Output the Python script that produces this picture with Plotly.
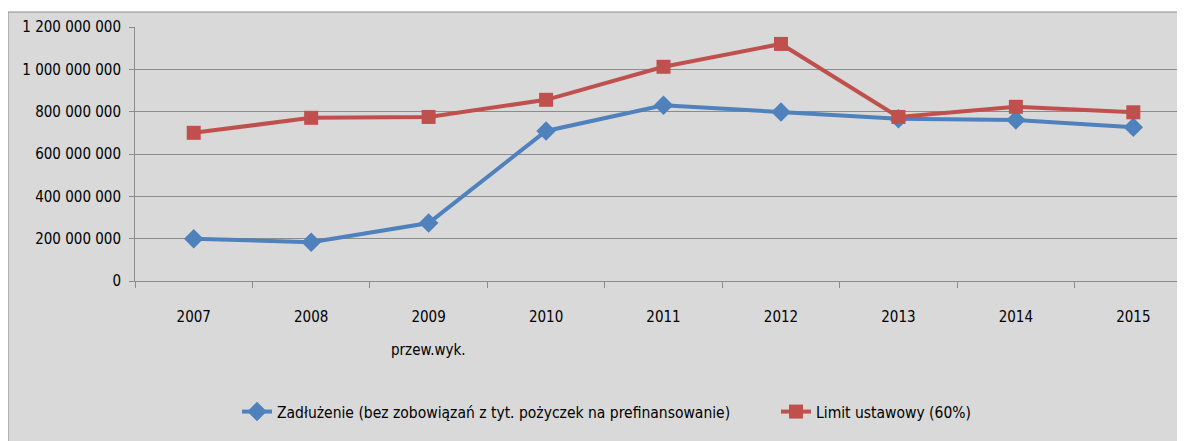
import plotly.graph_objects as go

years = ["2007", "2008", "2009", "2010", "2011", "2012", "2013", "2014", "2015"]
tick_labels = ["2007", "2008", "2009", "2010", "2011", "2012", "2013", "2014", "2015"]
note_year = "2009"
note_text = "przew.wyk."
zadluzenie = [200e6, 183e6, 274e6, 709e6, 830e6, 799e6, 766e6, 761e6, 726e6]
limit = [700e6, 771e6, 775e6, 856e6, 1012e6, 1120e6, 775e6, 823e6, 797e6]

FONT = "DejaVu Sans Condensed, Liberation Sans, sans-serif"
OFF = 8  # browser body margin
W, H = 1185 - OFF, 441 - OFF
ML, MR, MT, MB = 135 - OFF, 0, 27 - OFF, 441 - 281
PW, PH = W - ML - MR, H - MT - MB

fig = go.Figure()
fig.add_trace(go.Scatter(
    x=years, y=zadluzenie, mode="lines+markers",
    name="Zadłużenie (bez zobowiązań z tyt. pożyczek na prefinansowanie)",
    line=dict(color="#4f81bd", width=4),
    marker=dict(symbol="diamond", size=15, color="#4f81bd"),
    legend="legend",
))
fig.add_trace(go.Scatter(
    x=years, y=limit, mode="lines+markers",
    name="Limit ustawowy (60%)",
    line=dict(color="#c0504d", width=4),
    marker=dict(symbol="square", size=14, color="#c0504d"),
    legend="legend2",
))

fig.add_shape(type="rect", xref="paper", yref="paper",
              x0=(0 - ML) / PW, x1=1.05, y0=-(MB + 10) / PH, y1=1 + (MT - 4) / PH,
              fillcolor="#d9d9d9", line=dict(color="#8c8c8c", width=1), layer="below")

def px_x(x):
    return (x - OFF - ML) / PW

def px_y(y):
    return (MT + PH - (y - OFF)) / PH

fig.add_annotation(x=years.index(note_year), xref="x", y=px_y(350), yref="paper",
                   yanchor="middle", text=note_text, showarrow=False,
                   font=dict(family=FONT, size=15, color="#000000"))

leg_common = dict(orientation="h", yanchor="middle", xanchor="left",
                  bgcolor="rgba(0,0,0,0)", font=dict(family=FONT, size=15.5, color="#000000"),
                  itemwidth=30)

fig.update_layout(
    width=W, height=H,
    margin=dict(l=ML, r=MR, t=MT, b=MB),
    paper_bgcolor="white", plot_bgcolor="#d9d9d9",
    separators=", ",
    font=dict(family=FONT, size=15, color="#000000"),
    showlegend=True,
    legend=dict(x=px_x(237), y=px_y(412), **leg_common),
    legend2=dict(x=px_x(776), y=px_y(412), **leg_common),
    xaxis=dict(
        type="category", tickvals=years, ticktext=tick_labels,
        range=[-0.5, 8.44], showgrid=False, showline=True, linecolor="#8c8c8c",
        linewidth=1, ticks="outside", tickson="boundaries", ticklen=6,
        tickcolor="#8c8c8c", ticklabelstandoff=22, automargin=False,
    ),
    yaxis=dict(
        range=[0, 1.2e9], dtick=200e6, tickformat=",d", showgrid=True,
        gridcolor="#8c8c8c", gridwidth=1, showline=True, linecolor="#8c8c8c",
        ticks="outside", ticklen=5, tickcolor="#8c8c8c", zeroline=False,
        ticklabelstandoff=5, automargin=False,
    ),
)

fig.write_html("out.html")
